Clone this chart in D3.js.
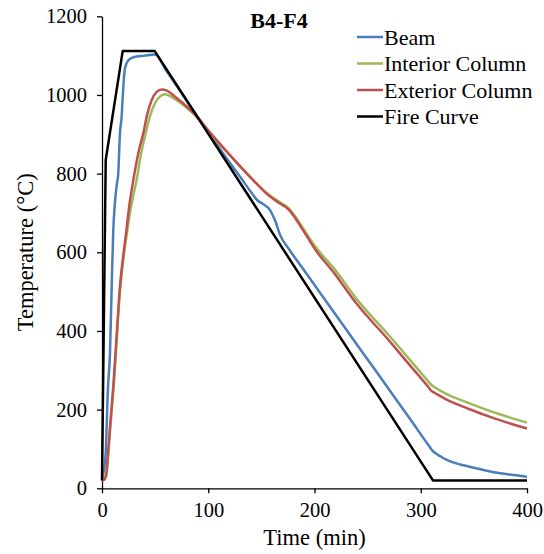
<!DOCTYPE html>
<html>
<head>
<meta charset="UTF-8">
<title>B4-F4</title>
<script src="https://d3js.org/d3.v7.min.js"></script>
<style>
  body { margin: 0; background: #fff; }
  text { font-family: "Liberation Serif", "Times New Roman", serif; fill: #000; }
</style>
</head>
<body>
<script>
// time (min), temperature (°C)
var beam = [[0,20],[1.2,38],[2.5,60],[3.5,90],[5.5,250],[7.5,343],[9,500],[10.6,656],[12,720],[13.8,770],[15.3,801],[16.9,903],[18.5,945],[19.5,995],[21.6,1068],[24.8,1088],[29.5,1096],[40,1100],[50,1103],[60,1064],[70,1024],[80,984],[90,944],[100,905],[111.7,860],[120,829],[130,792],[140,754],[146,733],[152,722],[158,708],[163,680],[167.5,645],[176.5,606],[190,555],[205,498],[224,426],[240,365],[256,305],[271,248],[290,176],[308,107],[311,96],[314,89],[318,82],[324,73],[335,62],[346,55],[360,46],[375,38],[390,33],[400,29]];
var interior = [[0,20],[2,22],[4,30],[6,90],[8,160],[10.6,245],[13,340],[16.9,500],[20,580],[23,640],[26,695],[29.5,745],[32.6,784],[36,840],[40,890],[45,945],[50,980],[55,997],[59.3,1002],[65,996],[70,987],[80,967],[89,945],[100,908],[115.8,860],[139.3,792],[155,751],[167.5,727],[175.3,713],[181.6,692],[189.5,660],[202,610],[217.7,561],[239.7,481],[271,386],[290,326],[307,272],[310.3,262],[313,257],[324,240],[346,216],[370,192],[400,167]];
var exterior = [[0,20],[2,22],[4,38],[6,100],[8,172],[10.6,258],[13,355],[16.9,513],[20,592],[22.6,648],[25.5,715],[29.5,784],[34,850],[38.9,903],[42.5,950],[46.8,987],[51.5,1008],[56.2,1014],[61,1011],[66,1002],[70,993],[80,970],[89,946],[100,910],[115.8,861],[139.3,792],[155,749],[167.5,724],[175.3,710],[181.6,688],[189.5,655],[202,602],[217.7,550],[239.7,469],[271,373],[290,312],[307,258],[310.3,247],[313,243],[324,226],[346,201],[370,177],[400,152]];
var fire = [[0,20],[3.5,835],[19.5,1112],[49.5,1112],[311.5,20],[400,20]];

var seriesNames = ["Beam", "Interior Column", "Exterior Column", "Fire Curve"];
var seriesColors = ["#4a7ebb", "#9bbb59", "#c0504d", "#000000"];
var xTicks = [0, 100, 200, 300, 400];
var yTicks = [0, 200, 400, 600, 800, 1000, 1200];

var w = 544, h = 554;
var pLeft = 102, pRight = 527, pTop = 16.3, pBottom = 488.3;

var svg = d3.select("body").append("svg")
    .attr("width", w)
    .attr("height", h);

var x = d3.scaleLinear().domain([0, 400]).range([pLeft, pRight]);
var y = d3.scaleLinear().domain([0, 1200]).range([pBottom, pTop]);

var xAxis = svg.append("g")
    .attr("transform", "translate(0," + pBottom + ")")
    .call(d3.axisBottom(x).tickValues(xTicks).tickFormat(d3.format("d")).tickSize(5).tickPadding(9).tickSizeOuter(0));
var yAxis = svg.append("g")
    .attr("transform", "translate(" + pLeft + ",0)")
    .call(d3.axisLeft(y).tickValues(yTicks).tickFormat(d3.format("d")).tickSize(5).tickPadding(10).tickSizeOuter(0));

[xAxis, yAxis].forEach(function(g) {
    g.selectAll("text").style("font-size", "20.5px").style("font-family", "Liberation Serif, serif");
    g.selectAll("line").attr("stroke", "#000").attr("stroke-width", 1.3);
    g.select(".domain").attr("stroke", "#000").attr("stroke-width", 1.3);
});

var line = d3.line()
    .x(function(d) { return x(d[0]); })
    .y(function(d) { return y(d[1]); });
var smooth = d3.line()
    .x(function(d) { return x(d[0]); })
    .y(function(d) { return y(d[1]); })
    .curve(d3.curveMonotoneX);

var data = [beam, interior, exterior, fire];
// draw order: beam under columns, fire on top
[0, 1, 2, 3].forEach(function(i) {
    svg.append("path")
        .datum(data[i])
        .attr("fill", "none")
        .attr("stroke", seriesColors[i])
        .attr("stroke-width", 2.5)
        .attr("stroke-linejoin", "round")
        .attr("d", i == 3 ? line : smooth);
});

svg.append("text")
    .attr("x", 279)
    .attr("y", 28)
    .attr("text-anchor", "middle")
    .style("font-size", "22px")
    .style("font-weight", "bold")
    .text("B4-F4");

svg.append("text")
    .attr("x", (pLeft + pRight) / 2)
    .attr("y", 545)
    .attr("text-anchor", "middle")
    .style("font-size", "22.5px")
    .text("Time (min)");

svg.append("text")
    .attr("transform", "translate(33," + ((pTop + pBottom) / 2) + ") rotate(-90)")
    .attr("text-anchor", "middle")
    .style("font-size", "22.5px")
    .text("Temperature (°C)");

var legend = svg.selectAll(".leg")
    .data(seriesNames)
    .enter().append("g")
    .attr("class", "leg")
    .attr("transform", function(d, i) { return "translate(357," + (37 + i * 26.5) + ")"; });
legend.append("line")
    .attr("x1", 0).attr("x2", 26)
    .attr("stroke", function(d, i) { return seriesColors[i]; })
    .attr("stroke-width", 2.5);
legend.append("text")
    .attr("x", 27)
    .attr("dy", "0.35em")
    .style("font-size", "22px")
    .text(function(d) { return d; });
</script>
</body>
</html>
